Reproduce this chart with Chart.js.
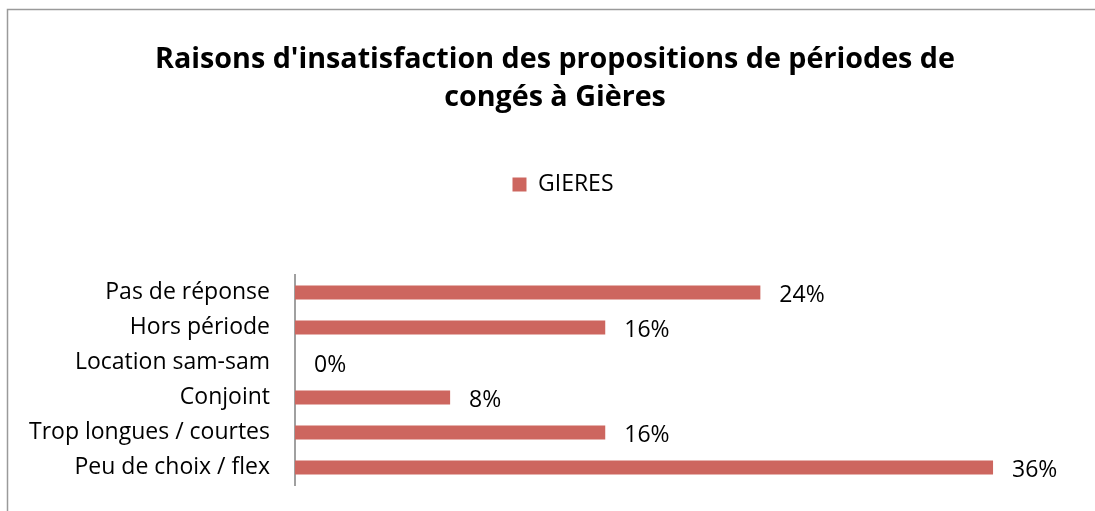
<!DOCTYPE html>
<html>
<head>
<meta charset="utf-8">
<script src="https://cdn.jsdelivr.net/npm/chart.js@4.4.0/dist/chart.umd.min.js"></script>
<style>
  html, body { margin: 0; padding: 0; background: #fff; }
  #wrap { width: 1095px; height: 511px; position: relative; }
</style>
</head>
<body>
<div id="wrap"><canvas id="c" width="1095" height="511"></canvas></div>
<script>
// data
const categories = ['Pas de réponse', 'Hors période', 'Location sam-sam', 'Conjoint', 'Trop longues / courtes', 'Peu de choix / flex'];
const seriesName = 'GIERES';
const values = [24, 16, 0, 8, 16, 36];
const titleLines = ["Raisons d'insatisfaction des propositions de périodes de", 'congés à Gières'];

const BAR = '#cd665f';
const FONT = '"Open Sans", Lato, sans-serif';
const PAD_LEFT = 20;

// frame line of the chart box (only left and top edges are in view)
const frame = {
  id: 'frame',
  beforeDraw(chart) {
    const ctx = chart.ctx;
    ctx.save();
    ctx.strokeStyle = '#9a9a9a';
    ctx.lineWidth = 1.5;
    ctx.beginPath();
    ctx.moveTo(7.5, chart.height);
    ctx.lineTo(7.5, 9.5);
    ctx.lineTo(chart.width, 9.5);
    ctx.stroke();
    ctx.restore();
  }
};

// legend sits a bit right of the title centre in the original
const nudgeLegend = {
  id: 'nudgeLegend',
  afterLayout(chart) {
    if (chart.legend) { chart.legend.left += 8; chart.legend.right += 8; }
  }
};

// percentage labels right of each bar
const valueLabels = {
  id: 'valueLabels',
  afterDatasetsDraw(chart) {
    const ctx = chart.ctx;
    const meta = chart.getDatasetMeta(0);
    ctx.save();
    ctx.font = '23px ' + FONT;
    ctx.fillStyle = '#000';
    ctx.textAlign = 'left';
    ctx.textBaseline = 'middle';
    meta.data.forEach((bar, i) => {
      ctx.fillText(values[i] + '%', bar.x + 19, bar.y + 3);
    });
    ctx.restore();
  }
};

new Chart(document.getElementById('c'), {
  type: 'bar',
  data: {
    labels: categories,
    datasets: [{
      label: seriesName,
      data: values,
      backgroundColor: BAR,
      borderWidth: 0,
      categoryPercentage: 1,
      barPercentage: 0.4,
    }]
  },
  options: {
    indexAxis: 'y',
    responsive: false,
    animation: false,
    layout: { padding: { left: PAD_LEFT, right: 5, top: 0, bottom: 26 } },
    plugins: {
      title: {
        display: true,
        text: titleLines,
        color: '#000',
        font: { family: FONT, size: 28.7, weight: 'bold', lineHeight: 38 / 28.7 },
        padding: { top: 41, bottom: 46 },
      },
      legend: {
        display: true,
        labels: {
          color: '#000',
          font: { family: FONT, size: 23 },
          boxWidth: 14,
          boxHeight: 14,
          padding: 10,
        }
      },
      tooltip: { enabled: false },
    },
    scales: {
      x: {
        position: 'top',
        min: 0,
        max: 41,
        grid: { display: false },
        border: { display: false },
        ticks: { display: false },
        afterFit: s => { s.height = 69; },
      },
      y: {
        grid: { display: false, drawTicks: false },
        border: { display: true, color: '#a0a0a0', width: 2 },
        ticks: { color: '#000', font: { family: FONT, size: 23 }, padding: 25 },
        afterFit: s => {
          s.width = 295 - PAD_LEFT;
          s.paddingTop = 0;
          s.paddingBottom = 0;
        },
      }
    }
  },
  plugins: [frame, nudgeLegend, valueLabels],
});
</script>
</body>
</html>
